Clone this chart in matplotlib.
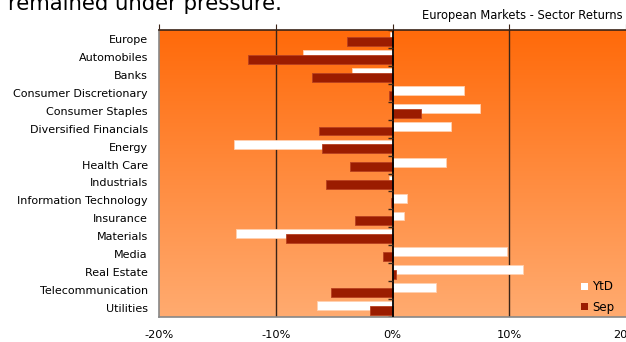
import numpy as np
import matplotlib
matplotlib.use('Agg')
import matplotlib.pyplot as plt
from matplotlib.colors import LinearSegmentedColormap
from matplotlib.patches import Patch

# Sector returns (%)
sectors = ['Europe', 'Automobiles', 'Banks', 'Consumer Discretionary',
           'Consumer Staples', 'Diversified Financials', 'Energy',
           'Health Care', 'Industrials', 'Information Technology',
           'Insurance', 'Materials', 'Media', 'Real Estate',
           'Telecommunication', 'Utilities']
ytd = [-0.2, -7.7, -3.5, 6.1, 7.5, 5.0, -13.6, 4.6, -0.3, 1.2, 1.0,
       -13.4, 9.8, 11.2, 3.7, -6.5]
sep = [-3.9, -12.4, -6.9, -0.3, 2.4, -6.3, -6.0, -3.6, -5.7, -0.1, -3.2,
       -9.1, -0.8, 0.3, -5.3, -1.9]
xticks = [-20, -10, 0, 10, 20]
xticklabels = ['-20%', '-10%', '0%', '10%', '20%']

plt.rcParams['font.family'] = 'DejaVu Sans'

fig = plt.figure(figsize=(6.26, 3.42), dpi=100)
ax = fig.add_axes([159/626, 1 - 317/342, 1 - 159/626, 287/342])

y = np.arange(len(sectors))
h = 0.5
off = 0.13

# gradient background
grad = LinearSegmentedColormap.from_list('bg', ['#FF6A0A', '#FFAB70'])
ax.imshow(np.linspace(0, 1, 256).reshape(-1, 1), cmap=grad, aspect='auto',
          extent=[-20, 20, len(sectors) - 0.5, -0.5], zorder=0)

ax.barh(y - off, ytd, height=h, color='white', edgecolor='#FFD0B0',
        linewidth=0.6, zorder=3, label='YtD')
ax.barh(y + off, sep, height=h, color='#9B1C00', edgecolor='#B84020',
        linewidth=0.6, zorder=4, label='Sep')

ax.set_xlim(-20, 20)
ax.set_ylim(len(sectors) - 0.5, -0.5)

for gx in [-10, 10]:
    ax.axvline(gx, color='#3A2418', lw=1.0, zorder=1)
ax.axvline(0, color='black', lw=1.3, zorder=5)
ax.hlines(np.arange(len(sectors) + 1) - 0.5, -0.35, 0, color='#3A2418',
          lw=1.0, zorder=5)

ax.set_yticks(y)
ax.set_yticklabels(sectors, fontsize=8.0)
ax.tick_params(axis='y', length=0, pad=8)

ax.set_xticks(xticks)
ax.set_xticklabels(xticklabels, fontsize=8.2)
ax.tick_params(axis='x', bottom=False, top=True, direction='out', length=4,
               color='#3A2418', pad=5)

for s in ['left', 'bottom']:
    ax.spines[s].set_color('#888888')
    ax.spines[s].set_linewidth(1.2)
ax.spines['top'].set_color('#3A2418')
ax.spines['top'].set_linewidth(1.2)
ax.spines['right'].set_visible(False)

handles = [Patch(facecolor='white', edgecolor='none', label='YtD'),
           Patch(facecolor='#9B1C00', edgecolor='none', label='Sep')]
ax.legend(handles=handles, loc='lower right', frameon=False, fontsize=8.5,
          handlelength=0.6, handleheight=0.6, handletextpad=0.4,
          labelspacing=0.6, bbox_to_anchor=(0.998, -0.025))

fig.text(0.994, 1 - 15/342, 'European Markets - Sector Returns',
         ha='right', va='center', fontsize=8.3)
fig.text(8/626, 1 - 10/342, 'remained under pressure.', ha='left',
         va='baseline', fontsize=15.3)

fig.savefig('out.png', dpi=100)
